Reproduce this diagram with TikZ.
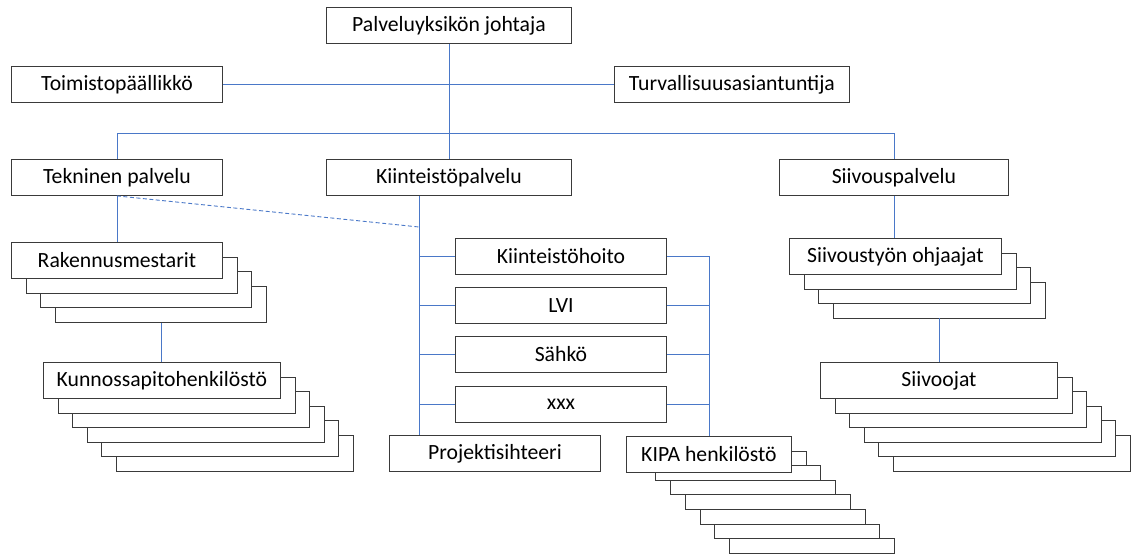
\documentclass[tikz,border=0pt]{standalone}
\usepackage{fontspec}
\setmainfont{Carlito}
\definecolor{boxgray}{HTML}{3A3A3A}
\definecolor{linkblue}{HTML}{4A78C8}
\newcommand\bx[6]{\node[box,minimum width=#4pt,minimum height=#5pt] (#1) at (#2,#3) {#6};}
\newcommand\stk[8]{%
  \foreach \k in {#6,...,1} {\node[box,minimum width=#4pt,minimum height=#5pt] (#1\k) at ({#2+#7*\k},{#3+#7*\k}) {};}
  \node[box,minimum width=#4pt,minimum height=#5pt] (#1) at (#2,#3) {#8};}
\begin{document}
\begin{tikzpicture}[x=1pt,y=-1pt,
  box/.style={draw=boxgray, fill=white, line width=0.9pt, inner sep=0pt, anchor=north west, font=\fontsize{21.7}{25}\selectfont},
  link/.style={draw=linkblue, line width=0.9pt}]
\useasboundingbox (0,0) rectangle (1131,554);
% top level
\bx{pal}{326}{7}{245}{36}{Palveluyksikön johtaja}
\bx{toim}{11}{66}{211}{36}{Toimistopäällikkö}
\bx{turv}{614}{66}{235}{36}{Turvallisuusasiantuntija}
\bx{tek}{11}{159}{211}{36}{Tekninen palvelu}
\bx{kii}{326}{159}{245}{36}{Kiinteistöpalvelu}
\bx{sp}{779}{159}{229}{36}{Siivouspalvelu}
% stacks
\stk{rak}{11}{242}{211}{36}{3}{14.7}{Rakennusmestarit}
\stk{kun}{43}{362}{237}{36}{5}{14.6}{Kunnossapitohenkilöstö}
\stk{sot}{789}{238}{212}{36}{3}{14.5}{Siivoustyön ohjaajat}
\stk{sj}{820}{362}{237}{36}{5}{14.6}{Siivoojat}
% Kiinteistö units
\bx{hoito}{455}{238}{211}{36}{Kiinteistöhoito}
\bx{lvi}{455}{287}{211}{36}{LVI}
\bx{sahko}{455}{336}{211}{36}{Sähkö}
\bx{xxx}{455}{386}{211}{36}{xxx}
\bx{proj}{389}{435}{211}{36}{Projektisihteeri}
% KIPA stack
\foreach \k in {7,...,1} {\node[box,minimum width=165pt,minimum height=14.5pt] (kipa\k) at ({626+14.7*\k},{436+14.6*\k}) {};}
\bx{kipa}{626}{436}{165}{36}{KIPA henkilöstö}
% trunks
\coordinate (ktrunk) at (419,0);
\coordinate (rtrunk) at (709,0);
\coordinate (bus) at (0,133);
\coordinate (dashend) at (419,227);
% connectors
\draw[link] (toim.east) -- (turv.west);
\draw[link] (pal.south) -- (kii.north);
\draw[link] (tek.north) -- (tek.north |- bus) -- (sp.north |- bus) -- (sp.north);
\draw[link] (tek.south) -- (rak.north);
\draw[link] (rak3.south) -- (rak3.south |- kun.north);
\draw[link] (sp.south) -- (sp.south |- sot.north);
\draw[link] (sot3.south) -- (sot3.south |- sj.north);
\draw[link,dash pattern=on 4pt off 2.5pt] (tek.south) -- (dashend);
\draw[link] (kii.south -| ktrunk) -- (proj.north -| ktrunk);
\foreach \n in {hoito,lvi,sahko,xxx} {
  \draw[link] (\n.west -| ktrunk) -- (\n.west);
  \draw[link] (\n.east) -- (\n.east -| rtrunk);
}
\draw[link] (hoito.east -| rtrunk) -- (kipa.north -| rtrunk);
\end{tikzpicture}
\end{document}
